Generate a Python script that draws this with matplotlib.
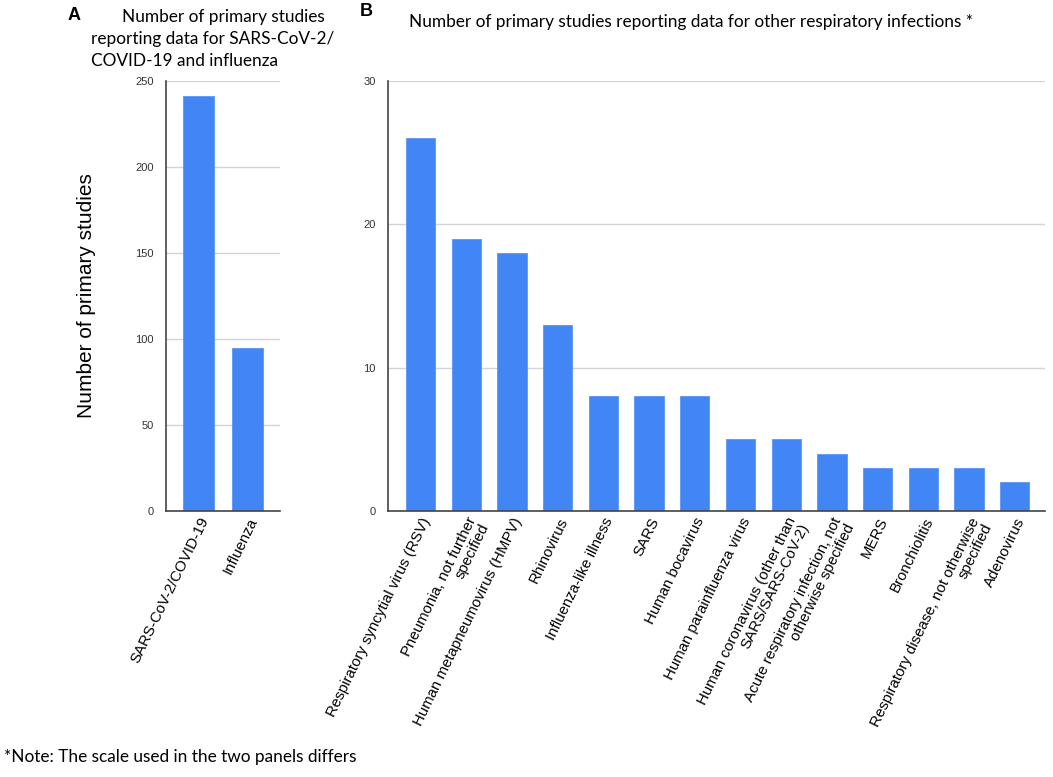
import matplotlib
matplotlib.use("Agg")
import matplotlib.pyplot as plt

# panel A data
covid_flu_labels = ["SARS-CoV-2/COVID-19", "Influenza"]
covid_flu_counts = [241, 95]

# panel B data
other_labels = [
    "Respiratory syncytial virus (RSV)",
    "Pneumonia, not further\nspecified",
    "Human metapneumovirus (HMPV)",
    "Rhinovirus",
    "Influenza-like illness",
    "SARS",
    "Human bocavirus",
    "Human parainfluenza virus",
    "Human coronavirus (other than\nSARS/SARS-CoV-2)",
    "Acute respiratory infection, not\notherwise specified",
    "MERS",
    "Bronchiolitis",
    "Respiratory disease, not otherwise\nspecified",
    "Adenovirus",
]
other_counts = [26, 19, 18, 13, 8, 8, 8, 5, 5, 4, 3, 3, 3, 2]

bar_color = "#4285f4"
tick_font = "Liberation Sans"
title_font = "Lato"

W, H = 1053, 777
fig = plt.figure(figsize=(W / 100, H / 100), dpi=100)


def fx(px):
    return px / W


def fy(py):
    return 1 - py / H


def style_axes(ax):
    ax.set_axisbelow(True)
    ax.yaxis.grid(True, color="#d4d4d4", linewidth=1)
    for s in ["top", "right"]:
        ax.spines[s].set_visible(False)
    ax.spines["left"].set_color("#444444")
    ax.spines["bottom"].set_color("#444444")
    ax.spines["left"].set_linewidth(1.2)
    ax.spines["bottom"].set_linewidth(1.2)
    ax.tick_params(axis="y", length=0, pad=9, labelsize=8, labelcolor="#333333")
    ax.tick_params(axis="x", length=0, pad=3)
    for t in ax.get_yticklabels():
        t.set_fontfamily(tick_font)


# panel A
axA = fig.add_axes([fx(166), fy(511), fx(280) - fx(166), fy(81) - fy(511)])
xa = range(len(covid_flu_labels))
axA.bar(xa, covid_flu_counts, width=0.63, color=bar_color, edgecolor="#5b95f5", linewidth=0.6)
axA.set_xlim(-0.66, 1.66)
axA.set_ylim(0, 250)
axA.set_yticks([0, 50, 100, 150, 200, 250])
axA.set_xticks(list(xa))
axA.set_xticklabels(covid_flu_labels, rotation=64, ha="right", rotation_mode="anchor",
                    fontsize=10.8, fontfamily=tick_font, linespacing=1.0)
style_axes(axA)
axA.set_ylabel("Number of primary studies", fontsize=15, fontfamily=tick_font, labelpad=28)

# panel B
axB = fig.add_axes([fx(388), fy(511), fx(1045) - fx(388), fy(81) - fy(511)])
xb = range(len(other_labels))
axB.bar(xb, other_counts, width=0.64, color=bar_color, edgecolor="#5b95f5", linewidth=0.6)
axB.set_xlim(-0.71, len(other_labels) - 1 + 0.66)
axB.set_ylim(0, 30)
axB.set_yticks([0, 10, 20, 30])
axB.set_xticks(list(xb))
axB.set_xticklabels(other_labels, rotation=64, ha="right", rotation_mode="anchor",
                    fontsize=10.8, fontfamily=tick_font, linespacing=1.0)
style_axes(axB)

# titles
fig.text(fx(68), fy(16), "A", fontsize=13, fontweight="bold", fontfamily=tick_font, va="center")
fig.text(fx(122), fy(17), "Number of primary studies", fontsize=12.4, fontfamily=title_font, va="center")
fig.text(fx(91), fy(39), "reporting data for SARS-CoV-2/", fontsize=12.4,
         fontfamily=title_font, va="center")
fig.text(fx(91), fy(61), "COVID-19 and influenza", fontsize=12.4,
         fontfamily=title_font, va="center")
fig.text(fx(360), fy(12), "B", fontsize=13, fontweight="bold", fontfamily=tick_font, va="center")
fig.text(fx(409), fy(22), "Number of primary studies reporting data for other respiratory infections *",
         fontsize=12.4, fontfamily=title_font, va="center")

fig.text(fx(4), fy(757), "*Note: The scale used in the two panels differs", fontsize=12.4,
         fontfamily=title_font, va="center")

fig.savefig("out.png", dpi=100)
